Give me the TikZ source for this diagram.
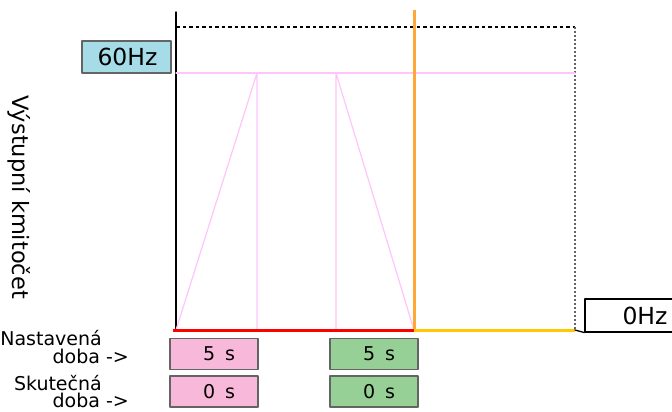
\documentclass[tikz,border=0pt]{standalone}
\usepackage{fontspec}
\setmainfont{DejaVu Sans}
\usetikzlibrary{positioning}
\definecolor{hzblue}{RGB}{166,220,232}
\definecolor{rampink}{RGB}{248,184,218}
\definecolor{ramgreen}{RGB}{150,208,150}
\definecolor{ramline}{RGB}{255,196,250}
\definecolor{runorange}{RGB}{255,168,56}
\definecolor{stopyellow}{RGB}{255,200,0}
\definecolor{boxgray}{RGB}{100,100,100}
\tikzset{
  valbox/.style={draw=boxgray,line width=1.4pt,minimum width=88pt,minimum height=31pt,inner sep=0pt,font=\fontsize{19}{19}\selectfont},
  hzbox/.style={valbox,font=\fontsize{23.5}{23.5}\selectfont},
  lbl/.style={inner sep=0pt,font=\fontsize{19}{19}\selectfont}
}

\begin{document}
\begin{tikzpicture}[line cap=round,line join=round,x=1pt,y=-1pt]
\useasboundingbox (0,0) rectangle (672,412);
\clip (0,0) rectangle (672,412);
% frame
\coordinate (o) at (176,330);
\coordinate (top) at (176,12);
\coordinate (fmax) at (176,73);
\coordinate (dtl) at (176,27);
\coordinate (dtr) at (575,27);
\coordinate (dbr) at (575,330);
\draw[black,line width=1.4pt] (top) -- (o);
\draw[black,line width=1.3pt,dash pattern=on 3.5pt off 3pt,line cap=butt] (dtl) -- (dtr);
\draw[boxgray,line width=2pt,dash pattern=on 2pt off 2pt,line cap=butt] (dtr) -- (dbr);
% ramp
\coordinate (up) at (257,73);
\coordinate (dn) at (336,73);
\coordinate (end) at (414,330);
\coordinate (fright) at (575,73);
\draw[ramline,line width=1.2pt] (fmax) -- (fright);
\draw[ramline,line width=1.2pt] (o) -- (up) -- (up |- o);
\draw[ramline,line width=1.2pt] (dn |- o) -- (dn) -- (end);
% run / stop
\draw[runorange,line width=3pt,line cap=butt] (414,10) -- (end);
\draw[red,line width=3pt,line cap=butt] (173,330) -- (end);
\draw[stopyellow,line width=3pt,line cap=butt] (end) -- (dbr);
% values
\node[hzbox,fill=hzblue,minimum width=89pt,minimum height=32pt] (maxhz) at (126.5,57) {\hspace*{2pt}60Hz};
\node[hzbox,draw=black,line width=1.2pt,fill=white,minimum width=120pt,minimum height=33pt] (zerohz) at (645,315.5) {0Hz\hspace{14pt}};
\draw[black,line width=1.3pt] (dbr) -- (zerohz.south west);
\node[valbox,fill=rampink] (accset) at (214,354) {\hspace*{10pt}5\hspace{10pt}s};
\node[valbox,fill=ramgreen] (decset) at (374,354) {\hspace*{10pt}5\hspace{10pt}s};
\node[valbox,fill=rampink,below=5pt of accset] (accact) {\hspace*{10pt}0\hspace{10pt}s};
\node[valbox,fill=ramgreen,below=5pt of decset] (decact) {\hspace*{10pt}0\hspace{10pt}s};
% labels
\node[lbl,anchor=base east] (setlbl) at (102,345) {Nastavená};
\node[lbl,anchor=base east] (setdoba) at (129,363) {doba ->};
\node[lbl,anchor=base east] (actlbl) at (102,390) {Skutečná};
\node[lbl,anchor=base east] (actdoba) at (129,407) {doba ->};
\node[lbl,rotate=-90,font=\fontsize{22.5}{22.5}\selectfont] (ylbl) at (19,197) {Výstupní kmitočet};
\end{tikzpicture}
\end{document}
